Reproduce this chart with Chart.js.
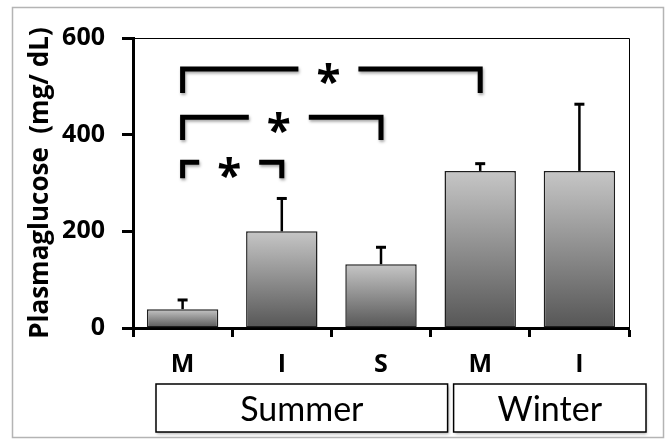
<!DOCTYPE html>
<html>
<head>
<meta charset="utf-8">
<script src="https://cdn.jsdelivr.net/npm/chart.js@4.4.1/dist/chart.umd.min.js"></script>
<style>
  html, body { margin: 0; padding: 0; background: #fff; }
  #wrap { width: 668px; height: 441px; position: relative; }
</style>
</head>
<body>
<div id="wrap"><canvas id="chart" width="668" height="441"></canvas></div>
<script>
// Data
const categories = ['M', 'I', 'S', 'M', 'I']
const glucose = [39, 200, 132, 325, 325]
const errorUp = [19, 68, 35, 15, 138]
const yTicks = [0, 200, 400, 600]

// Season groups under the axis (first index, last index)
const groupNames = ['Summer', 'Winter']
const groupFirst = [0, 3]
const groupLast = [2, 4]

// Significance brackets (category indexes, value levels)
const bracketFrom = [0, 0, 0]
const bracketTo = [1, 2, 3]
const bracketTop = [343, 436, 536]
const bracketFoot = [310, 389, 486]
const bracketLabel = ['*', '*', '*']

const BOLD = '"Open Sans", "DejaVu Sans", sans-serif'
const PLAIN = 'Lato, "Open Sans", sans-serif'

// Per-bar vertical gradient (light top, dark bottom)
function barFill(ctx) {
  const chart = ctx.chart
  const y = chart.scales.y
  if (!y || ctx.type !== 'data') return '#999'
  const top = y.getPixelForValue(ctx.raw)
  const bot = y.getPixelForValue(0)
  if (!isFinite(top) || !isFinite(bot)) return '#999'
  const g = chart.ctx.createLinearGradient(0, top, 0, bot)
  g.addColorStop(0, '#c6c6c6')
  g.addColorStop(1, '#565656')
  return g
}

const extras = {
  id: 'extras',
  beforeDraw(chart) {
    const c = chart.ctx
    c.save()
    c.strokeStyle = '#b4b4b4'
    c.lineWidth = 1.5
    c.strokeRect(12.5, 7.5, 651, 430)
    c.restore()
  },
  afterDatasetsDraw(chart) {
    const c = chart.ctx
    const x = chart.scales.x
    const y = chart.scales.y
    // error bars (upper only)
    c.save()
    c.strokeStyle = '#000'
    glucose.forEach((v, i) => {
      const px = x.getPixelForValue(i)
      const y0 = y.getPixelForValue(v)
      const y1 = y.getPixelForValue(v + errorUp[i])
      c.lineWidth = 2.5
      c.beginPath()
      c.moveTo(px, y0)
      c.lineTo(px, y1)
      c.stroke()
      c.lineWidth = 3
      c.beginPath()
      c.moveTo(px - 5, y1)
      c.lineTo(px + 5, y1)
      c.stroke()
    })
    c.restore()
  },
  afterDraw(chart) {
    const c = chart.ctx
    const x = chart.scales.x
    const y = chart.scales.y
    const area = chart.chartArea

    // thin frame on top and right of plot
    c.save()
    c.strokeStyle = '#000'
    c.lineWidth = 1
    c.beginPath()
    c.moveTo(area.left, area.top + 0.5)
    c.lineTo(area.right + 0.5, area.top + 0.5)
    c.lineTo(area.right + 0.5, area.bottom)
    c.stroke()
    c.restore()

    // significance brackets
    c.save()
    c.strokeStyle = '#000'
    c.lineWidth = 5
    bracketFrom.forEach((a, k) => {
      const xa = x.getPixelForValue(a)
      const xb = x.getPixelForValue(bracketTo[k])
      const yt = y.getPixelForValue(bracketTop[k])
      const yf = y.getPixelForValue(bracketFoot[k])
      const mid = (xa + xb) / 2 - 3
      const gap = 30
      c.shadowColor = 'rgba(0,0,0,0.35)'
      c.shadowBlur = 3
      c.shadowOffsetX = 1
      c.shadowOffsetY = 2
      c.beginPath()
      c.moveTo(xa, yf)
      c.lineTo(xa, yt)
      c.lineTo(mid - gap, yt)
      c.stroke()
      c.beginPath()
      c.moveTo(mid + gap, yt)
      c.lineTo(xb, yt)
      c.lineTo(xb, yf)
      c.stroke()
      c.shadowColor = 'transparent'
      c.fillStyle = '#000'
      c.font = 'bold 44px ' + BOLD
      c.textAlign = 'center'
      c.textBaseline = 'middle'
      c.fillText(bracketLabel[k], mid, yt + 16)
    })
    c.restore()

    // season boxes
    const step = x.getPixelForValue(1) - x.getPixelForValue(0)
    c.save()
    groupNames.forEach((name, k) => {
      const left = x.getPixelForValue(groupFirst[k]) - step / 2 + 23
      const right = x.getPixelForValue(groupLast[k]) + step / 2 + 17
      const top = 384
      const h = 48
      c.shadowColor = 'rgba(0,0,0,0.3)'
      c.shadowBlur = 3
      c.shadowOffsetX = 1
      c.shadowOffsetY = 2
      c.fillStyle = '#fff'
      c.fillRect(left, top, right - left, h)
      c.shadowColor = 'transparent'
      c.strokeStyle = '#000'
      c.lineWidth = 1.5
      c.strokeRect(left, top, right - left, h)
      c.fillStyle = '#000'
      c.font = '34px ' + PLAIN
      c.textAlign = 'center'
      c.textBaseline = 'middle'
      c.fillText(name, (left + right) / 2, top + h / 2 + 2)
    })
    c.restore()
  }
}

new Chart(document.getElementById('chart'), {
  type: 'bar',
  data: {
    labels: categories,
    datasets: [{
      data: glucose,
      backgroundColor: barFill,
      borderColor: '#1e1e1e',
      borderWidth: 1.5,
      borderSkipped: false,
      barPercentage: 0.72,
      categoryPercentage: 1
    }]
  },
  options: {
    responsive: false,
    animation: false,
    layout: { padding: { left: 12, top: 38, right: 39, bottom: 0 } },
    plugins: {
      legend: { display: false },
      tooltip: { enabled: false }
    },
    scales: {
      x: {
        offset: true,
        afterFit(scale) { scale.height = 113 },
        border: { display: true, width: 3, color: '#000' },
        grid: {
          offset: true,
          drawOnChartArea: false,
          tickLength: 9,
          tickWidth: 3,
          color: '#000'
        },
        ticks: {
          color: '#000',
          padding: 13,
          maxRotation: 0,
          font: { family: BOLD, size: 25, weight: 'bold' }
        }
      },
      y: {
        min: 0,
        max: 600,
        afterFit(scale) { scale.width = 121 },
        afterBuildTicks(scale) { scale.ticks = yTicks.map(v => ({ value: v })) },
        border: { display: true, width: 3, color: '#000' },
        grid: {
          drawOnChartArea: false,
          tickLength: 11,
          tickWidth: 3,
          color: '#000'
        },
        ticks: {
          color: '#000',
          padding: 17,
          font: { family: BOLD, size: 25, weight: 'bold' }
        },
        title: {
          display: true,
          text: 'Plasmaglucose  (mg/ dL)',
          color: '#000',
          padding: { top: 13, bottom: 0 },
          font: { family: BOLD, size: 26, weight: 'bold' }
        }
      }
    }
  },
  plugins: [extras]
})
</script>
</body>
</html>
